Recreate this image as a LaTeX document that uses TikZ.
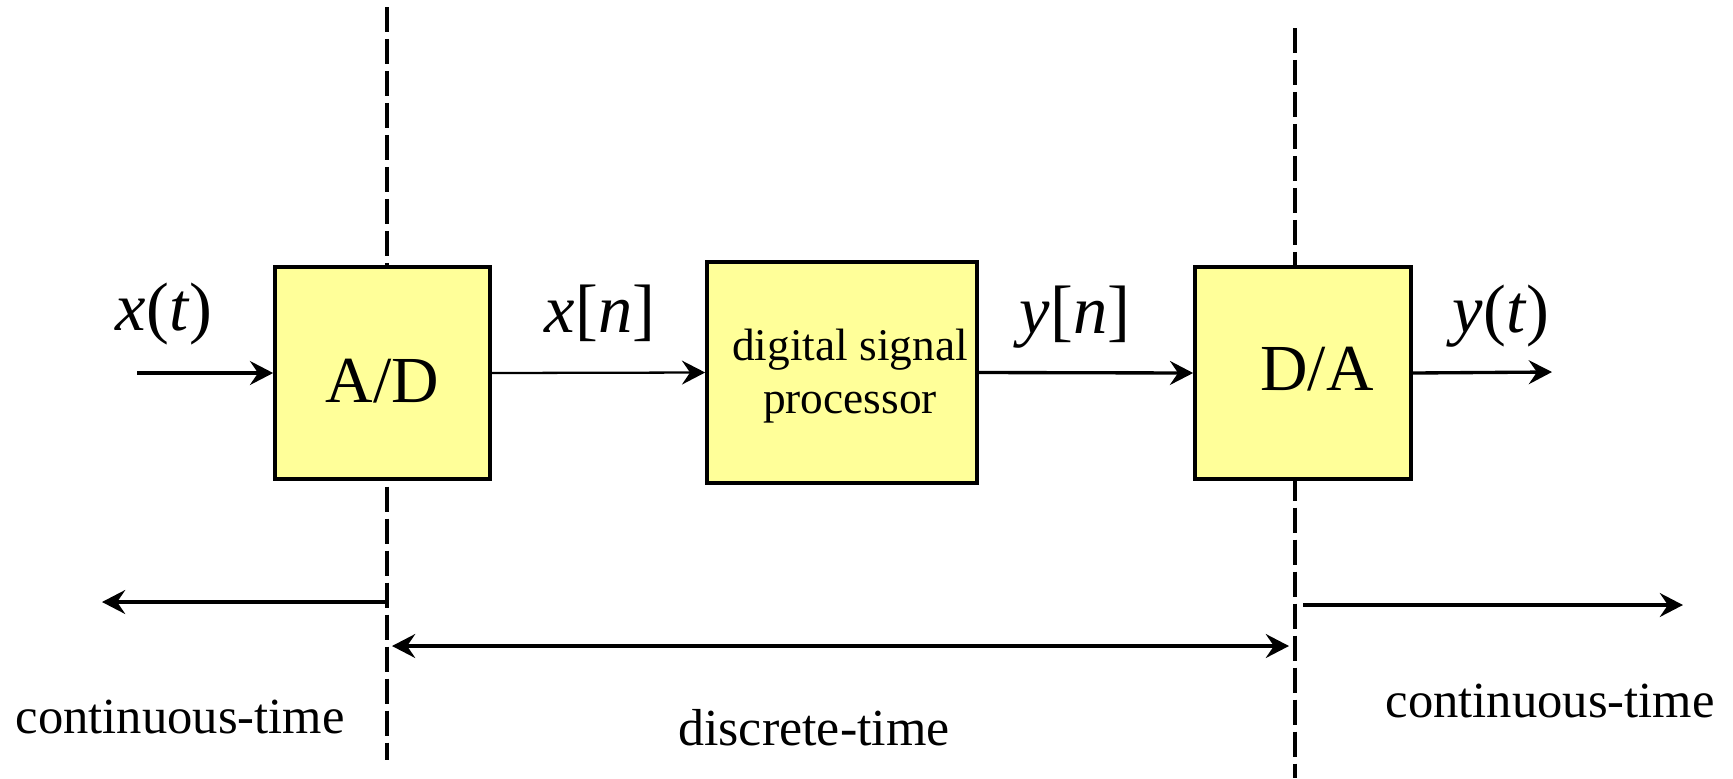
\documentclass[tikz,border=0pt]{standalone}
\usepackage{fontspec}
\setmainfont{Liberation Serif}
\usepackage{tikz}
\usetikzlibrary{arrows.meta,positioning,calc}

\definecolor{boxyellow}{RGB}{255,255,153}

\begin{document}
\begin{tikzpicture}[x=0.1mm,y=-0.1mm,
  >={Stealth[length=6.6pt,width=6.8pt,inset=2.3pt]},
  conv/.style={draw,line width=1.05pt,fill=boxyellow,inner sep=0pt,minimum height=21.2mm},
  bigtext/.style={inner sep=0pt,font=\fontsize{18.7}{22}\selectfont},
  sig/.style={->,line width=0.95pt},
  boundary/.style={line width=1.05pt,dash pattern=on 7.1pt off 2pt},
  siglabel/.style={inner sep=0pt,font=\fontsize{19.5}{22}\selectfont},
  timelabel/.style={inner sep=0pt,anchor=base,font=\fontsize{14.4}{17}\selectfont}]
\useasboundingbox (0,0) rectangle (1733,778);

% sampling boundaries, behind the blocks
\coordinate (cutA top) at (387,7);
\coordinate (cutA bot) at (387,760);
\coordinate (cutB top) at (1295,28);
\coordinate (cutB bot) at (1295,778);
\draw[boundary] (cutA top) -- (cutA bot);
\draw[boundary] (cutB top) -- (cutB bot);

% the three blocks
\node[conv,minimum width=21.5mm,label={[bigtext,yshift=-0.8mm]center:A/D}] (ad) at (382.5,373) {};
\node[conv,minimum width=27mm,minimum height=22.1mm,
  label={[inner sep=0pt,align=center,xshift=0.8mm,yshift=-0.35mm,font=\fontsize{12.9}{15.1}\selectfont]center:digital signal\\processor}] (dsp) at (842,372.5) {};
\node[conv,minimum width=21.6mm,label={[bigtext,xshift=1.4mm,yshift=0.4mm]center:D/A}] (da) at (1303,373) {};

% signal path
\coordinate (in) at (137,373);
\coordinate (out) at (1552,372);
\draw[sig] (in) -- (ad.west);
\draw[sig,line width=0.65pt] (ad.east) -- (dsp.west);
\draw[sig] (dsp.east) -- (da.west);
\draw[sig] (da.east) -- (out);

\node[siglabel] (xt) at (164,314) {\textit{x}(\textit{t})};
\node[siglabel] (xn) at (600,313) {\textit{x}[\textit{n}]};
\node[siglabel] (yn) at (1075,317) {\textit{y}[\textit{n}]};
\node[siglabel] (yt) at (1501,316) {\textit{y}(\textit{t})};

% time domains
\coordinate (ctL start) at (387,602);
\coordinate (ctL end) at (102,602);
\coordinate (dt left) at (392,646);
\coordinate (dt right) at (1289,646);
\coordinate (ctR start) at (1303,605);
\coordinate (ctR end) at (1683,605);
\draw[sig] (ctL start) -- (ctL end);
\draw[sig,<->] (dt left) -- (dt right);
\draw[sig] (ctR start) -- (ctR end);

\node[timelabel,anchor=base west] (ctL) at (15,733) {continuous-time};
\node[timelabel,font=\fontsize{14.8}{17}\selectfont] (dt) at (814,745) {discrete-time};
\node[timelabel,anchor=base west] (ctR) at (1385,717) {continuous-time};
\end{tikzpicture}
\end{document}
